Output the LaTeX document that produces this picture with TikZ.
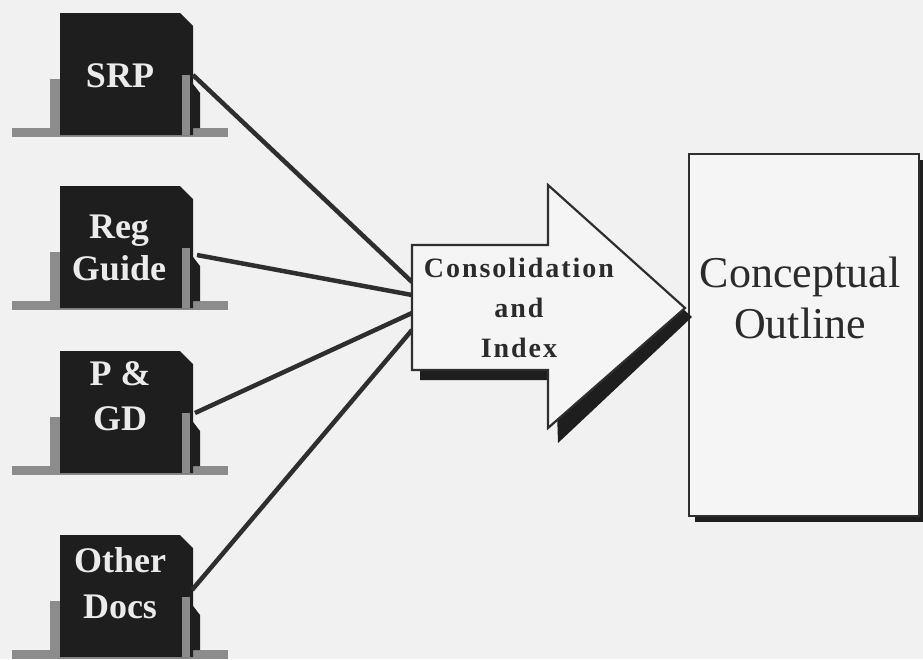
\documentclass[tikz,border=0pt]{standalone}
\usepackage{fontspec}
\setmainfont{Liberation Serif}
\newfontfamily\spacedserif[LetterSpace=7]{Liberation Serif}
\definecolor{bg}{HTML}{F1F1F1}
\definecolor{docdark}{HTML}{1E1E1E}
\definecolor{postgray}{HTML}{8C8C8C}
\definecolor{linecol}{HTML}{2E2E2E}
\definecolor{txtcol}{HTML}{2B2B2B}
\tikzset{
  docicon/.pic={
    \fill[postgray] (12,-9) rectangle (228,0);
    \fill[postgray] (50,-58) rectangle (60,-2);
    \fill[docdark] (190,-57) -- (200,-44) -- (200,-9) -- (190,-9) -- cycle;
    \fill[docdark] (60,-2) -- (60,-124) -- (180,-124) -- (193,-111) -- (193,-2) -- cycle;
    \fill[postgray] (182,-62) rectangle (190,-2);
  },
  doclabel/.style={font=\bfseries\fontsize{36}{40}\selectfont, text=white!92!black, anchor=base, inner sep=0pt},
  arrowlabel/.style={font=\spacedserif\bfseries\fontsize{28}{40}\selectfont, text=txtcol, anchor=base, inner sep=0pt},
  boxlabel/.style={font=\fontsize{44}{50}\selectfont, text=txtcol, anchor=base, inner sep=0pt},
  conn/.style={draw=linecol, line width=4.5pt},
}
\begin{document}
\begin{tikzpicture}[x=1pt,y=-1pt]
\fill[bg] (0,0) rectangle (923,659);
\useasboundingbox (0,0) rectangle (923,659);

% document icons
\pic at (0,137) {docicon};
\pic at (0,310) {docicon};
\pic at (0,475) {docicon};
\pic at (0,659) {docicon};

\node[doclabel] (srp) at (120,87) {SRP};
\node[doclabel] (reg1) at (119,238) {Reg};
\node[doclabel] (reg2) at (119,280) {Guide};
\node[doclabel] (pgd1) at (120,385) {P \&};
\node[doclabel] (pgd2) at (120,430) {GD};
\node[doclabel] (oth1) at (120,572) {Other};
\node[doclabel] (oth2) at (120,618) {Docs};

% connector end points
\coordinate (srpout) at (193,75);
\coordinate (regout) at (197,255);
\coordinate (pgdout) at (195,413);
\coordinate (othout) at (192,590);
\coordinate (in1) at (412,282);
\coordinate (in2) at (412,295);
\coordinate (in3) at (412,313);
\coordinate (in4) at (412,330);

\draw[conn] (srpout) -- (in1);
\draw[conn] (regout) -- (in2);
\draw[conn] (pgdout) -- (in3);
\draw[conn] (othout) -- (in4);

% conceptual outline box
\fill[docdark] (695,160) rectangle (924,522);
\node[draw=linecol, line width=1.8pt, fill=white!96!black, minimum width=230pt, minimum height=362pt, inner sep=0pt, anchor=north west] (outline) at (688,153) {};
\node[boxlabel] (co1) at (800,287) {Conceptual};
\node[boxlabel] (co2) at (800,338) {Outline};

% consolidation arrow
\fill[docdark] (420,255) -- (556,255) -- (556,195) -- (692,317) -- (558,443) -- (556,380) -- (420,380) -- cycle;
\draw[draw=linecol, line width=2.2pt, fill=white!96!black, line join=miter]
  (412,245) -- (548,245) -- (548,185) -- (685,308) -- (548,428) -- (548,370) -- (412,370) -- cycle;
\node[arrowlabel] (cons1) at (519,277) {Consolidation};
\node[arrowlabel] (cons2) at (519,317) {and};
\node[arrowlabel] (cons3) at (519,357) {Index};
\end{tikzpicture}
\end{document}
